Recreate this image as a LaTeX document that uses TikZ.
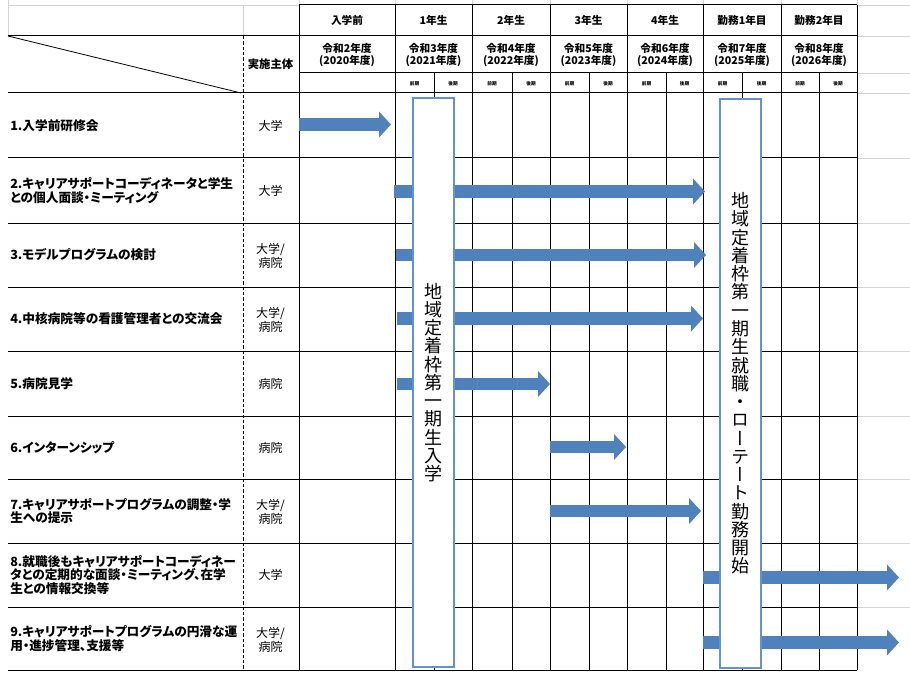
\documentclass[tikz,border=0pt]{standalone}
\usepackage{fontspec}
\setmainfont{Noto Sans CJK JP}
\newfontfamily\jpp{Noto Sans CJK JP}[RawFeature=+palt]
\newfontfamily\jpv{Noto Sans CJK JP}[RawFeature=+vert]
\usetikzlibrary{arrows.meta}
\definecolor{barblue}{HTML}{4F81BD}
\definecolor{boxblue}{HTML}{6592CB}
\definecolor{gridgray}{HTML}{D4D4D4}
\begin{document}
\begin{tikzpicture}[x=0.75pt,y=-0.75pt,
  gridline/.style={line width=0.75pt, black},
  sheetline/.style={line width=0.6pt, gridgray},
  dashline/.style={line width=0.75pt, black, dash pattern=on 2.5pt off 1.5pt},
  bar/.style={line width=9.4pt, barblue, -{Triangle[length=9pt,width=19pt]}},
  vbox/.style={draw=boxblue, line width=1.5pt, fill=white, minimum width=30.75pt, minimum height=426.75pt, inner sep=0pt, align=center, font=\jpv\fontsize{13.5}{13.7}\selectfont},
  hdr/.style={font=\bfseries\fontsize{8}{9.3}\selectfont, align=center, inner sep=0pt},
  half/.style={font=\bfseries\fontsize{3.5}{4}\selectfont, inner sep=0pt},
  item/.style={font=\jpp\bfseries\fontsize{9.5}{10}\selectfont, align=left, anchor=west, inner sep=0pt},
  who/.style={font=\fontsize{9}{10.8}\selectfont, align=center, inner sep=0pt}]
\useasboundingbox (0,0) rectangle (910,681);
\fill[white] (0,0) rectangle (910,681);

% spreadsheet grey gridlines
\draw[sheetline] (8,0) -- (8,36);
\draw[sheetline] (8,5) -- (299,5);
\draw[sheetline] (243,5) -- (243,36);
\foreach \y in {5,36,73,93,158,223,287,351,416,479,543,607}
  \draw[sheetline] (857,\y) -- (910,\y);
\foreach \x in {299,395,472,550,627,703,781,857}
  \draw[sheetline] (\x,0) -- (\x,5);

% table lines
\draw[gridline] (299,5) -- (857,5);
\draw[gridline] (8,36) -- (857,36);
\draw[gridline] (299,73) -- (857,73);
\draw[gridline] (8,93) -- (857,93);
\foreach \y in {158,223,287,351,416,479,543,607,670}
  \draw[gridline] (8,\y) -- (857,\y);
\foreach \x in {299,395,472,550,627,703,781,857}
  \draw[gridline] (\x,5) -- (\x,670);
\foreach \x in {434,512,589,666,742,819}
  \draw[gridline] (\x,73) -- (\x,670);
\draw[dashline] (243,36) -- (243,670);
\draw[line width=0.6pt] (8,36) -- (241,93);

% header texts
\node[hdr] (y0) at (347,20.5) {入学前};
\node[hdr] (y1) at (433.5,20.5) {1年生};
\node[hdr] (y2) at (511,20.5) {2年生};
\node[hdr] (y3) at (588.5,20.5) {3年生};
\node[hdr] (y4) at (665,20.5) {4年生};
\node[hdr] (y5) at (742,20.5) {勤務1年目};
\node[hdr] (y6) at (819,20.5) {勤務2年目};
\node[hdr] (f0) at (347,55) {令和2年度\\(2020年度)};
\node[hdr] (f1) at (433.5,55) {令和3年度\\(2021年度)};
\node[hdr] (f2) at (511,55) {令和4年度\\(2022年度)};
\node[hdr] (f3) at (588.5,55) {令和5年度\\(2023年度)};
\node[hdr] (f4) at (665,55) {令和6年度\\(2024年度)};
\node[hdr] (f5) at (742,55) {令和7年度\\(2025年度)};
\node[hdr] (f6) at (819,55) {令和8年度\\(2026年度)};
\foreach \x [count=\i] in {414.5,492,569.5,646.5,722.5,800}
  \node[half] (pa\i) at (\x,83.5) {前期};
\foreach \x [count=\i] in {453,531,608,684.5,761.5,838}
  \node[half] (pb\i) at (\x,83.5) {後期};
\node[hdr, font=\bfseries\fontsize{8.5}{10}\selectfont] (who0) at (270.5,64.5) {実施主体};

% row texts
\node[item] (t1) at (10,125.5) {1.入学前研修会};
\node[item] (t2) at (10,190.5) {2.キャリアサポートコーディネータと学生\\との個人面談・ミーティング};
\node[item] (t3) at (10,255) {3.モデルプログラムの検討};
\node[item] (t4) at (10,319) {4.中核病院等の看護管理者との交流会};
\node[item] (t5) at (10,383.5) {5.病院見学};
\node[item] (t6) at (10,447.5) {6.インターンシップ};
\node[item] (t7) at (10,511) {7.キャリアサポートプログラムの調整・学\\生への提示};
\node[item] (t8) at (10,575) {8.就職後もキャリアサポートコーディネー\\タとの定期的な面談・ミーティング、在学\\生との情報交換等};
\node[item] (t9) at (10,638.5) {9.キャリアサポートプログラムの円滑な運\\用・進捗管理、支援等};

\node[who] (w1) at (270.5,125.5) {大学};
\node[who] (w2) at (270.5,190.5) {大学};
\node[who] (w3) at (270.5,256) {大学/\\病院};
\node[who] (w4) at (270.5,320) {大学/\\病院};
\node[who] (w5) at (270.5,383.5) {病院};
\node[who] (w6) at (270.5,447.5) {病院};
\node[who] (w7) at (270.5,512) {大学/\\病院};
\node[who] (w8) at (270.5,575) {大学};
\node[who] (w9) at (270.5,640) {大学/\\病院};

% bar coordinates
\coordinate (s1) at (299,124.5); \coordinate (e1) at (391,124.5);
\coordinate (s2) at (394,191.5); \coordinate (e2) at (705,191.5);
\coordinate (s3) at (396,255);   \coordinate (e3) at (706,255);
\coordinate (s4) at (397,318.5); \coordinate (e4) at (703,318.5);
\coordinate (s5) at (397,384);   \coordinate (e5) at (550,384);
\coordinate (s6) at (550,447);   \coordinate (e6) at (626,447);
\coordinate (s7) at (550,511);   \coordinate (e7) at (701,511);
\coordinate (s8) at (703,577.5); \coordinate (e8) at (899,577.5);
\coordinate (s9) at (703,642.5); \coordinate (e9) at (899,642.5);
\foreach \i in {1,...,9}
  \draw[bar] (s\i) -- (e\i);

% vertical boxes
\node[vbox] (box1) at (433.5,382.5) {地\\域\\定\\着\\枠\\第\\一\\期\\生\\入\\学};
\node[vbox] (box2) at (740.5,383.5) {地\\域\\定\\着\\枠\\第\\一\\期\\生\\就\\職\\・\\ロ\\ー\\テ\\ー\\ト\\勤\\務\\開\\始};
\end{tikzpicture}
\end{document}
